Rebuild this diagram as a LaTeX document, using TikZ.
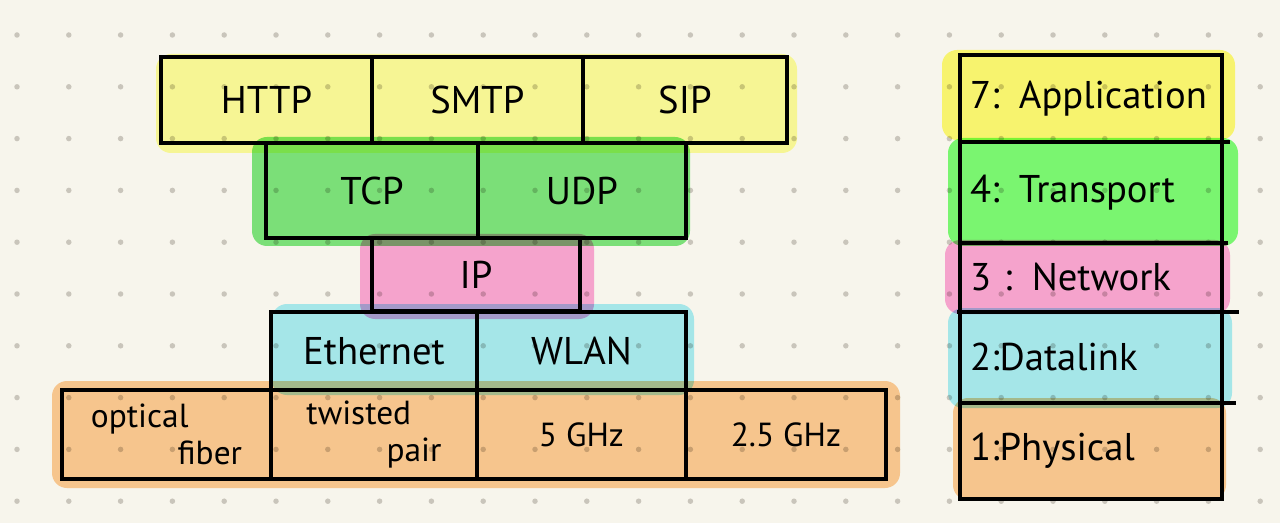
\documentclass[tikz,border=0pt]{standalone}
\usepackage{fontspec}
\setmainfont{PT Sans}
\usetikzlibrary{positioning}
\definecolor{paper}{HTML}{F7F5EC}
\definecolor{dotgray}{HTML}{C9C5BB}
\definecolor{hlyellow}{HTML}{FEFFA0}
\definecolor{hlyellowb}{HTML}{FFFD77}
\definecolor{hlgreen}{HTML}{7FE982}
\definecolor{hlgreenb}{HTML}{7EFF7A}
\definecolor{hlpink}{HTML}{FDAADD}
\definecolor{hlcyan}{HTML}{ABF0FB}
\definecolor{hlorange}{HTML}{FECE99}
\tikzset{
  cell/.style={draw=black, line width=1.9pt, outer sep=0pt, inner sep=0pt,
    font=\fontsize{22}{24}\selectfont},
  medium/.style={cell, align=left, font=\fontsize{19}{21}\selectfont},
  layer/.style={cell, minimum width=5.24cm, text width=4.84cm, inner xsep=0.2cm,
    align=left, font=\fontsize{22}{24}\selectfont},
  marker/.style={rounded corners=0.3cm, blend mode=multiply},
  rule/.style={line width=1.9pt},
}
\begin{document}
\begin{tikzpicture}[x=0.02cm, y=-0.02cm]
\fill[paper] (0,0) rectangle (1280,523);
\useasboundingbox (0,0) rectangle (1280,523);
% dot grid
\foreach \i in {0,...,24}
  \foreach \j in {0,...,9}
    \fill[dotgray] (17+51.8*\i, 35+51.8*\j) circle (0.055cm);
% highlighter strokes, left stack
\fill[marker, hlyellow] (156,54) rectangle (797,153);
\fill[marker, hlgreen] (252,137) rectangle (690,246);
\fill[marker, hlpink] (360,234) rectangle (594,319);
\fill[marker, hlcyan] (272,304) rectangle (694,395);
\fill[marker, hlorange] (52,381) rectangle (900,488);
% highlighter strokes, layer column
\fill[marker, hlyellowb] (942,50) rectangle (1235,140);
\fill[marker, hlgreenb] (948,138) rectangle (1238,246);
\fill[marker, hlpink] (945,240) rectangle (1230,314);
\fill[marker, hlcyan] (948,308) rectangle (1232,408);
\fill[marker, hlorange] (953,398) rectangle (1226,500);
% protocol stack
\node[cell, minimum width=4.22cm, minimum height=1.72cm] (http) at (266.5,100) {HTTP};
\node[cell, minimum width=4.22cm, minimum height=1.72cm, right=0pt of http] (smtp) {SMTP};
\node[cell, minimum width=4.08cm, minimum height=1.72cm, right=0pt of smtp] (sip) {SIP};
\node[cell, minimum width=4.24cm, minimum height=1.9cm] (tcp) at (372,190.5) {TCP};
\node[cell, minimum width=4.16cm, minimum height=1.9cm, right=0pt of tcp] (udp) {UDP};
\node[cell, minimum width=4.16cm, minimum height=1.46cm] (ip) at (476,274.5) {IP};
\node[cell, minimum width=4.12cm, minimum height=1.56cm] (eth) at (374,351) {Ethernet};
\node[cell, minimum width=4.18cm, minimum height=1.56cm, right=0pt of eth] (wlan) {WLAN};
\node[medium, minimum width=4.18cm, minimum height=1.78cm] (fiber) at (166.5,434.5) {optical\\\hspace*{2.6em}fiber};
\node[medium, minimum width=4.12cm, minimum height=1.78cm, right=0pt of fiber] (pair) {twisted\\\hspace*{2.4em}pair};
\node[medium, minimum width=4.18cm, minimum height=1.78cm, right=0pt of pair] (ghz5) {5 GHz};
\node[medium, minimum width=4.0cm, minimum height=1.78cm, right=0pt of ghz5] (ghz25) {2.5 GHz};
% layer column
\node[layer, minimum height=1.74cm] (app) at (1091,98.5) {7: Application};
\node[layer, minimum height=2.02cm, below=0pt of app] (trans) {4: Transport};
\node[layer, minimum height=1.38cm, below=0pt of trans] (net) {3 : Network};
\node[layer, minimum height=1.82cm, below=0pt of net] (link) {2:Datalink};
\node[layer, minimum height=1.92cm, below=0pt of link] (phys) {1:Physical};
% overshooting strokes
\draw[rule] (app.south east) -- ++(8,0);
\draw[rule] (trans.south east) -- ++(6,0);
\draw[rule] (net.south west) ++(-3,0) -- ++(20,0);
\draw[rule] (net.south east) -- ++(17,0);
\draw[rule] (link.south east) -- ++(14,0);
\end{tikzpicture}
\end{document}
